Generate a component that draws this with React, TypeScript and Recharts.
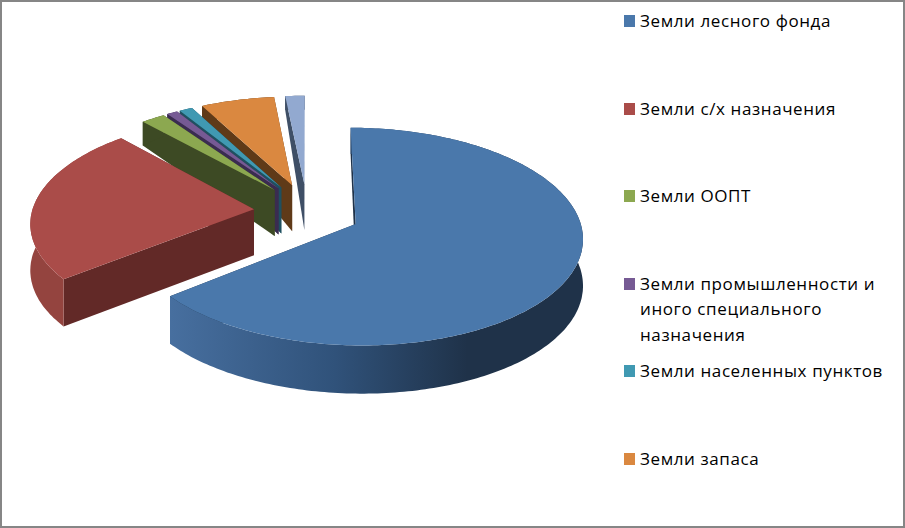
import * as React from 'react';
import { Legend, Pie, PieChart } from 'recharts';

const categories = [
  'Земли лесного фонда',
  'Земли с/х назначения',
  'Земли ООПТ',
  'Земли промышленности и иного специального назначения',
  'Земли населенных пунктов',
  'Земли запаса',
  'Земли водного фонда',
];
const hiddenFromLegend = ['Земли водного фонда'];
const values = [64.2, 24, 2, 0.9, 1.1, 6.1, 1.6];
const topColors = ['#4a78ab', '#aa4c49', '#8ca850', '#765a94', '#4099b2', '#da8840', '#92a9d0'];
const sideColors = ['#1f3249', '#622927', '#3d4a24', '#3a2c50', '#1f5060', '#5f3a18', '#3f4f66'];
const rimColors = ['url(#blueRim)', '#94443f', '#3d4a24', '#3a2c50', '#1f5060', '#5f3a18', '#3f4f66'];

// painted back to front, so the table runs the other way round the pie
const table = categories
  .map((name, i) => ({
    name,
    value: values[i],
    fill: topColors[i],
    side: sideColors[i],
    rim: rimColors[i],
  }))
  .reverse();

const CX = 307;
const CY = 211.5;
const SCALE_X = 222;
const SCALE_Y = 104.5;
const PERSPECTIVE = 0.115;
const EXPLODE_X = 0.24;
const EXPLODE_Y = 0.27;
const RAD = Math.PI / 180;

const project = (x: number, y: number, cx: number, cy: number) => {
  const w = 1 - PERSPECTIVE * y;
  return [cx + (SCALE_X * x) / w, cy + (SCALE_Y * y) / w];
};

// the far side of the pie has a much thinner wall than the near side
const depthAt = (y: number) => {
  if (y >= 0) return 46 + 2 * y;
  if (y >= -0.3) return 46;
  return Math.max(14, 46 - (-0.3 - y) * 34);
};

const toPath = (pts: number[][]) => `M${pts.map(p => `${p[0].toFixed(1)},${p[1].toFixed(1)}`).join('L')}Z`;

const Slice3D = (props: any) => {
  const { cx, cy, startAngle, endAngle, side, rim, fill } = props;
  const mid = ((startAngle + endAngle) / 2) * RAD;
  const ox = EXPLODE_X * Math.cos(mid);
  const oy = -EXPLODE_Y * Math.sin(mid);

  const steps = Math.max(2, Math.ceil(Math.abs(endAngle - startAngle)));
  const ground: number[][] = [];
  for (let i = 0; i <= steps; i++) {
    const a = (startAngle + ((endAngle - startAngle) * i) / steps) * RAD;
    ground.push([ox + Math.cos(a), oy - Math.sin(a)]);
  }
  const top = ground.map(g => project(g[0], g[1], cx, cy));
  const bottom = ground.map((g, i) => [top[i][0], top[i][1] + depthAt(g[1])]);
  const apex = project(ox, oy, cx, cy);
  const apexBottom = [apex[0], apex[1] + depthAt(oy)];
  const last = top.length - 1;

  return (
    <g>
      <defs>
        <linearGradient id="blueRim" x1="0" y1="0" x2="1" y2="0">
          <stop offset="0" stopColor="#476f9f" />
          <stop offset="0.4" stopColor="#30527a" />
          <stop offset="0.72" stopColor="#1f3249" />
          <stop offset="1" stopColor="#1f3249" />
        </linearGradient>
      </defs>
      <path d={toPath([top[0], bottom[0], apexBottom, apex])} fill={side} />
      <path d={toPath([top[last], bottom[last], apexBottom, apex])} fill={side} />
      <path d={toPath([...top, ...[...bottom].reverse()])} fill={rim} />
      <path d={toPath([apex, ...top])} fill={fill} />
    </g>
  );
};

const LegendRows = ({ payload }: any) => {
  const rows = [...(payload || [])]
    .filter((e: any) => !hiddenFromLegend.includes(e.value))
    .sort((a: any, b: any) => categories.indexOf(a.value) - categories.indexOf(b.value));
  return (
    <div style={{ position: 'relative', width: 905, height: 528 }}>
      {rows.map((entry: any, i: number) => (
        <div
          key={entry.value}
          style={{
            position: 'absolute',
            left: 624,
            top: 8 + i * 87.6,
            width: 266,
            display: 'flex',
            alignItems: 'flex-start',
          }}
        >
          <span
            style={{
              width: 11,
              height: 12,
              marginTop: 7,
              marginRight: 5,
              flex: 'none',
              background: entry.color,
            }}
          />
          <span
            style={{
              fontFamily: '"Open Sans", sans-serif',
              fontSize: 17,
              letterSpacing: 0.6,
              lineHeight: '25.6px',
              color: '#000',
            }}
          >
            {entry.value}
          </span>
        </div>
      ))}
    </div>
  );
};

export default function App() {
  return (
    <div
      style={{
        position: 'absolute',
        left: 0,
        top: 0,
        width: 905,
        height: 528,
        background: '#fff',
      }}
    >
      <PieChart width={905} height={528} margin={{ top: 0, right: 0, bottom: 0, left: 0 }}>
        <Pie
          data={table}
          dataKey="value"
          nameKey="name"
          cx={CX}
          cy={CY}
          outerRadius={200}
          startAngle={90}
          endAngle={450}
          stroke="none"
          isAnimationActive={false}
          shape={Slice3D}
        />
        <Legend
          content={LegendRows}
          wrapperStyle={{ position: 'absolute', left: 0, top: 0, width: 905, height: 528 }}
        />
      </PieChart>
      <div
        style={{
          position: 'absolute',
          left: 0,
          top: 0,
          width: 905,
          height: 528,
          boxSizing: 'border-box',
          border: '2px solid #868686',
          pointerEvents: 'none',
        }}
      />
    </div>
  );
}
